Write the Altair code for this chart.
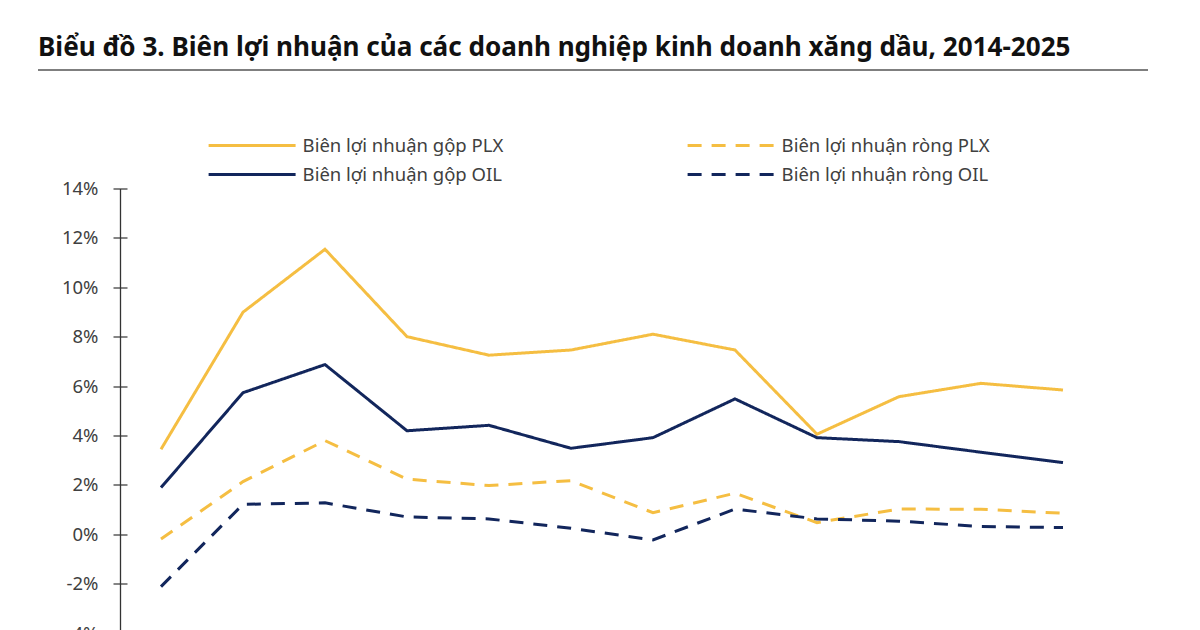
import altair as alt
import pandas as pd

years = [str(y) for y in range(2014, 2026)]
series = ["Biên lợi nhuận gộp PLX", "Biên lợi nhuận gộp OIL",
          "Biên lợi nhuận ròng PLX", "Biên lợi nhuận ròng OIL"]
gross_plx = [3.44, 8.99, 11.54, 8.00, 7.25, 7.46, 8.10, 7.46, 4.05, 5.57, 6.11, 5.84]
gross_oil = [1.89, 5.73, 6.87, 4.19, 4.41, 3.48, 3.91, 5.48, 3.91, 3.75, 3.32, 2.90]
net_plx = [-0.19, 2.13, 3.79, 2.23, 1.97, 2.17, 0.87, 1.66, 0.47, 1.02, 1.01, 0.85]
net_oil = [-2.12, 1.21, 1.27, 0.70, 0.62, 0.24, -0.23, 1.02, 0.62, 0.53, 0.31, 0.27]
y_ticks = [-4, -2, 0, 2, 4, 6, 8, 10, 12, 14]
title_text = "Biểu đồ 3. Biên lợi nhuận của các doanh nghiệp kinh doanh xăng dầu, 2014-2025"

GOLD = "#F5BE42"
NAVY = "#12265C"
colors = [GOLD, NAVY, GOLD, NAVY]
dashes = [[1, 0], [1, 0], [14, 10], [14, 10]]

rows = []
for name, vals in zip(series, [gross_plx, gross_oil, net_plx, net_oil]):
    for yr, v in zip(years, vals):
        rows.append({"year": yr, "series": name, "value": v})
df = pd.DataFrame(rows)

FONT = "Noto Sans"
W, H = 984, 444.5

xenc = alt.X("year:O", sort=years,
             scale=alt.Scale(type="band", paddingInner=0, paddingOuter=0),
             axis=alt.Axis(title=None, domain=False, tickBand="extent", tickSize=14,
                           offset=-7, tickColor="#333333", tickWidth=1, labelAngle=0,
                           labelFont=FONT, labelFontSize=18.5, labelColor="#404040"))

yscale = alt.Scale(domain=[-4, 14], nice=False, zero=False)

legend_kw = dict(title=None, orient="none", legendX=87, legendY=-55.5,
                 columns=2, symbolType="M-4,0H4", symbolSize=473,
                 symbolOffset=32.6, symbolStrokeWidth=3, labelOffset=38,
                 columnPadding=177, rowPadding=7,
                 labelFont=FONT, labelFontSize=18.5,
                 labelColor="#404040", labelLimit=400)

lines = alt.Chart(df).mark_line(strokeWidth=3).encode(
    x=xenc,
    y=alt.Y("value:Q", scale=yscale,
            axis=alt.Axis(title=None, values=y_ticks, labelExpr="datum.value + '%'",
                          domain=False, offset=-7, tickSize=14, tickColor="#333333",
                          tickWidth=1.2, labelPadding=15, labelFont=FONT,
                          labelFontSize=18.5, labelColor="#404040", grid=False)),
    color=alt.Color("series:N", sort=series,
                    scale=alt.Scale(domain=series, range=colors),
                    legend=alt.Legend(**legend_kw)),
    strokeDash=alt.StrokeDash("series:N", sort=series,
                              scale=alt.Scale(domain=series, range=dashes),
                              legend=alt.Legend(**legend_kw)),
)

yaxis_line = alt.Chart(df).mark_line(opacity=0).encode(
    x=alt.X("year:O", sort=years, axis=None,
            scale=alt.Scale(type="band", paddingInner=0, paddingOuter=0)),
    y=alt.Y("value:Q", scale=yscale,
            axis=alt.Axis(title=None, orient="left", values=y_ticks, labels=False,
                          ticks=False, domain=True, domainColor="#333333",
                          domainWidth=1.3, grid=False)),
    detail="series:N",
)

rule = alt.Chart(pd.DataFrame({"k": [0]})).mark_rule(color="#7F7F7F", strokeWidth=2).encode(
    x=alt.value(-82), x2=alt.value(1028), y=alt.value(-118.5)
)

chart = alt.layer(lines, yaxis_line, rule).resolve_scale(y="independent").properties(
    width=W, height=H,
    autosize=alt.AutoSizeParams(type="none"),
    padding={"left": 112, "top": 180.5, "right": 88, "bottom": 60},
    title=alt.Title(title_text, anchor="start", frame="group", font=FONT,
                    fontSize=26.1, fontWeight="bold", color="#111111", dx=-82, dy=2,
                    offset=10),
).configure_view(stroke=None)

chart.save("out.html", embed_options={"renderer": "svg", "actions": False})
